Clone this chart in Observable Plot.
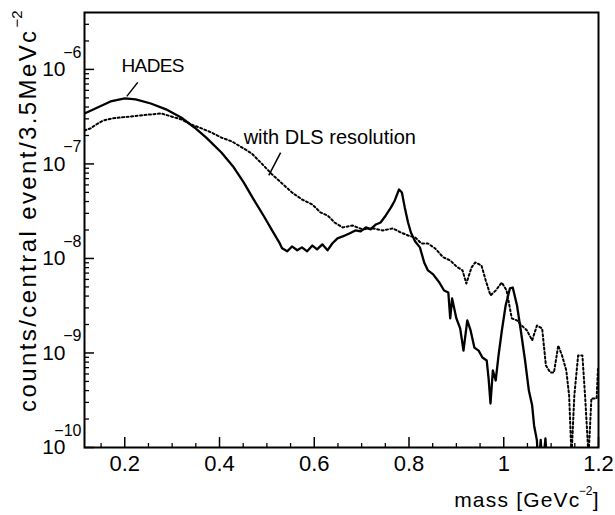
<!DOCTYPE html>
<html><head><meta charset="utf-8">
<script src="https://cdn.jsdelivr.net/npm/d3@7"></script>
<script src="https://cdn.jsdelivr.net/npm/@observablehq/plot@0.6"></script>
<style>
html,body{margin:0;padding:0;background:#fff;}
#chart svg{font-family:"Liberation Sans",Arial,Helvetica,sans-serif;display:block;}
</style></head><body><div id="chart"></div>
<script>
// HADES (solid)
const hadesMass = [0.115,0.138,0.170,0.200,0.223,0.255,0.287,0.319,0.347,0.372,0.404,0.430,0.451,0.472,0.494,0.511,0.526,0.532,0.543,0.553,0.564,0.574,0.585,0.596,0.606,0.617,0.628,0.638,0.649,0.660,0.674,0.687,0.698,0.709,0.719,0.730,0.740,0.751,0.762,0.770,0.779,0.785,0.791,0.798,0.804,0.813,0.823,0.832,0.840,0.851,0.864,0.874,0.883,0.887,0.891,0.900,0.908,0.915,0.923,0.930,0.938,0.947,0.955,0.964,0.968,0.972,0.977,0.983,0.989,0.996,1.004,1.013,1.019,1.028,1.036,1.045,1.053,1.060,1.064,1.070,1.073,1.078,1.082,1.088,1.092];
const hadesCounts = [3.42e-7,3.86e-7,4.58e-7,4.93e-7,4.82e-7,4.36e-7,3.78e-7,3.10e-7,2.43e-7,1.90e-7,1.32e-7,9.2e-8,6.37e-8,4.21e-8,2.78e-8,1.98e-8,1.48e-8,1.28e-8,1.19e-8,1.34e-8,1.22e-8,1.31e-8,1.19e-8,1.37e-8,1.25e-8,1.41e-8,1.22e-8,1.44e-8,1.63e-8,1.71e-8,1.84e-8,1.98e-8,1.93e-8,2.13e-8,2.03e-8,2.29e-8,2.40e-8,2.85e-8,3.47e-8,4.11e-8,5.37e-8,4.99e-8,3.47e-8,2.40e-8,1.88e-8,1.51e-8,1.31e-8,9.08e-9,7.47e-9,6.78e-9,5.57e-9,4.58e-9,4.36e-9,2.32e-9,3.78e-9,2.32e-9,1.82e-9,1.06e-9,2.21e-9,1.73e-9,1.14e-9,1.06e-9,8.95e-10,8.33e-10,5.37e-10,2.92e-10,6.53e-10,5.12e-10,9.42e-10,1.73e-9,3.18e-9,4.82e-9,4.93e-9,3.18e-9,1.73e-9,8.33e-10,4.0e-10,2.78e-10,1.71e-10,1.19e-10,6e-11,1.2e-10,6e-11,1.25e-10,6e-11];
// with DLS resolution (dotted)
const dlsMass = [0.115,0.128,0.140,0.155,0.174,0.191,0.213,0.234,0.255,0.277,0.298,0.319,0.340,0.362,0.383,0.404,0.426,0.447,0.468,0.489,0.511,0.532,0.553,0.574,0.596,0.613,0.628,0.643,0.660,0.681,0.702,0.723,0.745,0.766,0.783,0.798,0.813,0.826,0.840,0.855,0.872,0.887,0.900,0.913,0.921,0.932,0.940,0.953,0.962,0.972,0.983,0.996,1.006,1.017,1.028,1.038,1.049,1.060,1.070,1.081,1.089,1.098,1.106,1.115,1.123,1.132,1.138,1.143,1.149,1.157,1.166,1.172,1.179,1.185,1.196,1.199];
const dlsCounts = [2.26e-7,2.38e-7,2.62e-7,2.88e-7,3.03e-7,3.10e-7,3.18e-7,3.26e-7,3.34e-7,3.42e-7,3.18e-7,2.96e-7,2.62e-7,2.38e-7,2.15e-7,1.90e-7,1.73e-7,1.50e-7,1.29e-7,1.01e-7,7.74e-8,6.22e-8,4.99e-8,4.21e-8,3.72e-8,3.07e-8,2.85e-8,2.40e-8,2.13e-8,2.23e-8,2.03e-8,2.08e-8,1.98e-8,2.08e-8,1.88e-8,1.75e-8,1.67e-8,1.44e-8,1.44e-8,1.28e-8,1.03e-8,9.53e-9,8.23e-9,7.47e-9,5.43e-9,8.03e-9,9.08e-9,8.43e-9,5.85e-9,4.06e-9,4.58e-9,5.57e-9,4.58e-9,2.32e-9,2.21e-9,1.95e-9,1.73e-9,1.36e-9,1.95e-9,1.82e-9,7.38e-10,6.22e-10,6.22e-10,1.20e-9,9.42e-10,6.53e-10,3.55e-10,8e-11,3.55e-10,9.42e-10,9.42e-10,3.30e-10,8e-11,3.30e-10,3.30e-10,7e-10];

// ticks
const yMajorTicks = [1e-10,1e-9,1e-8,1e-7,1e-6];
const yTickExponents = ["\u221210","\u22129","\u22128","\u22127","\u22126"];
const yMinorTicks = [2e-10,3e-10,4e-10,5e-10,6e-10,7e-10,8e-10,9e-10,2e-9,3e-9,4e-9,5e-9,6e-9,7e-9,8e-9,9e-9,2e-8,3e-8,4e-8,5e-8,6e-8,7e-8,8e-8,9e-8,2e-7,3e-7,4e-7,5e-7,6e-7,7e-7,8e-7,9e-7,2e-6,3e-6];
const xMajorTicks = [0.2,0.4,0.6,0.8,1.0,1.2];
const xTickLabels = ["0.2","0.4","0.6","0.8","1","1.2"];
const xMinorTicks = [0.15,0.25,0.3,0.35,0.45,0.5,0.55,0.65,0.7,0.75,0.85,0.9,0.95,1.05,1.1,1.15];

// annotations
const hadesLabel = [{t: "HADES", x: 0.259, y: 1.08e-6}];
const dlsLabel = [{t: "with DLS resolution", x: 0.451, y: 1.90e-7}];
const arrowX1 = [0.2274,0.529], arrowY1 = [7.29e-7,1.32e-7];
const arrowX2 = [0.2042,0.504], arrowY2 = [5.18e-7,7.55e-8];

const W = 615, H = 515, mL = 84, mR = 17, mT = 12, mB = 68;
const xDom = [0.115, 1.2], yDom = [1e-10, 4e-6];
const pxPerX = (W - mL - mR) / (xDom[1] - xDom[0]);
const pxPerDecade = (H - mT - mB) / Math.log10(yDom[1] / yDom[0]);
const xLen = (px) => px / pxPerX;
const yMul = (px) => Math.pow(10, px / pxPerDecade);

const hades = hadesMass.map((m, i) => ({m, c: hadesCounts[i]}));
const dls = dlsMass.map((m, i) => ({m, c: dlsCounts[i]}));
const arrows = arrowX1.map((x1, i) => ({x1, y1: arrowY1[i], x2: arrowX2[i], y2: arrowY2[i]}));

const chart = Plot.plot({
  width: W, height: H,
  marginLeft: mL, marginRight: mR, marginTop: mT, marginBottom: mB,
  x: {domain: xDom, axis: null},
  y: {type: "log", domain: yDom, axis: null},
  style: {background: "#fff", color: "#000", fontFamily: "'Liberation Sans', Arial, sans-serif"},
  marks: [
    // y ticks (inward)
    Plot.ruleY(yMajorTicks, {y: d => d, x1: xDom[0], x2: xDom[0] + xLen(10), stroke: "#000", strokeWidth: 1.5}),
    Plot.ruleY(yMinorTicks, {y: d => d, x1: xDom[0], x2: xDom[0] + xLen(5), stroke: "#000", strokeWidth: 1.3}),
    // x ticks (inward)
    Plot.ruleX(xMajorTicks, {x: d => d, y1: yDom[0], y2: yDom[0] * yMul(10), stroke: "#000", strokeWidth: 1.5}),
    Plot.ruleX(xMinorTicks, {x: d => d, y1: yDom[0], y2: yDom[0] * yMul(4), stroke: "#000", strokeWidth: 1.3}),
    // curves
    Plot.line(dls, {x: "m", y: "c", stroke: "#000", strokeWidth: 2, strokeDasharray: "2,2.5", clip: true}),
    Plot.line(hades, {x: "m", y: "c", stroke: "#000", strokeWidth: 2.3, clip: true}),
    Plot.frame({stroke: "#000", strokeWidth: 2}),
    // y tick labels
    Plot.text(yMajorTicks, {y: d => d, frameAnchor: "left", text: () => "10", textAnchor: "end", dx: -19, fontSize: 21}),
    Plot.text(yMajorTicks, {y: d => d, frameAnchor: "left", text: (d, i) => yTickExponents[i], textAnchor: "end", dx: -3, dy: -17, fontSize: 16}),
    // x tick labels
    Plot.text(xMajorTicks, {x: d => d, frameAnchor: "bottom", text: (d, i) => xTickLabels[i], dy: 23, fontSize: 22}),
    // x axis label
    Plot.text(["mass [GeVc"], {frameAnchor: "bottom-right", text: d => d, textAnchor: "end", dx: -18, dy: 59, fontSize: 21}),
    Plot.text(["\u22122"], {frameAnchor: "bottom-right", text: d => d, textAnchor: "end", dx: -6, dy: 47, fontSize: 12}),
    Plot.text(["]"], {frameAnchor: "bottom-right", text: d => d, textAnchor: "end", dx: 0, dy: 59, fontSize: 21}),
    // y axis label
    Plot.text(["counts/central event/3.5MeVc"], {frameAnchor: "top-left", text: d => d, textAnchor: "end", rotate: -90, dx: -66, dy: 16, fontSize: 24}),
    Plot.text(["\u22122"], {frameAnchor: "top-left", text: d => d, textAnchor: "end", rotate: -90, dx: -73, dy: -2, fontSize: 15}),
    // annotations
    Plot.link(arrows, {x1: "x1", y1: "y1", x2: "x2", y2: "y2", stroke: "#000", strokeWidth: 1.5}),
    Plot.text(hadesLabel, {x: "x", y: "y", text: "t", textAnchor: "middle", fontSize: 19}),
    Plot.text(dlsLabel, {x: "x", y: "y", text: "t", textAnchor: "start", fontSize: 20})
  ]
});
document.getElementById("chart").appendChild(chart);
const texts = d3.select(chart).selectAll("text");
texts.filter(function(){return this.textContent === "counts/central event/3.5MeVc";}).style("letter-spacing", "2.4px");
texts.filter(function(){return this.textContent === "HADES";}).style("letter-spacing", "-0.6px");
texts.filter(function(){return this.textContent === "mass [GeVc";}).style("letter-spacing", "1.2px");
</script></body></html>
